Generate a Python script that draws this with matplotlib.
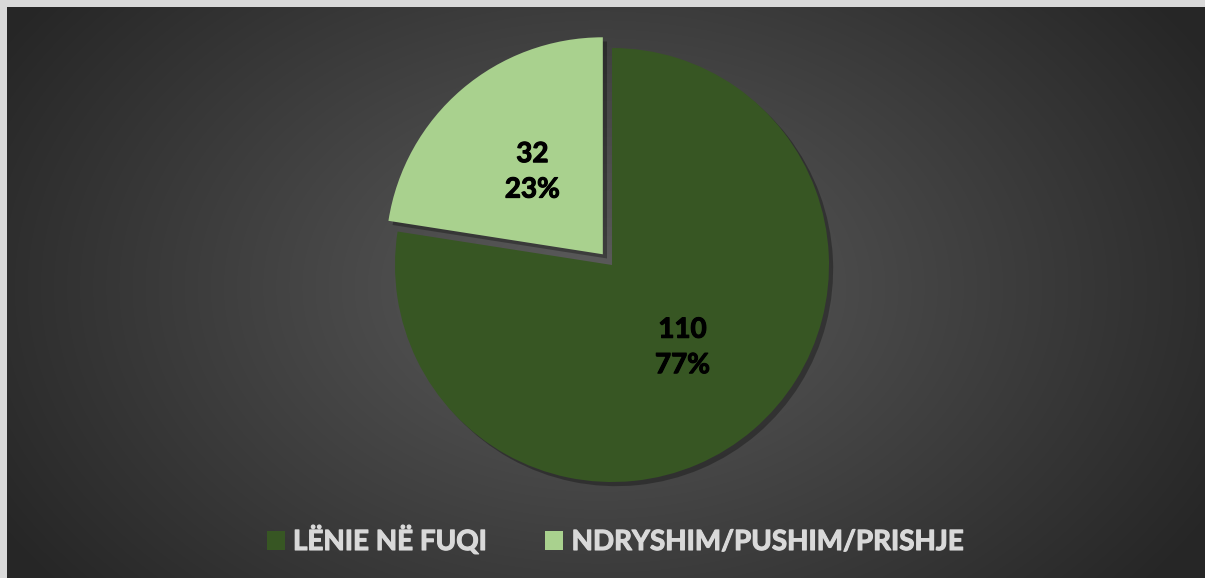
import numpy as np
import matplotlib
matplotlib.use("Agg")
import matplotlib.pyplot as plt
from matplotlib.patches import Rectangle
from matplotlib import patheffects as pe

# ---------------- data ----------------
categories = ["LËNIE NË FUQI", "NDRYSHIM/PUSHIM/PRISHJE"]
values = [110, 32]
colors = ["#375623", "#a9d18e"]

W, H = 1205, 578
R = 217
plt.rcParams["font.family"] = ["Lato", "DejaVu Sans"]

fig = plt.figure(figsize=(W / 100, H / 100), dpi=100)
ax = fig.add_axes([0, 0, 1, 1])

# ---------------- background: radial gradient ----------------
yy, xx = np.mgrid[0:H, 0:W]
d = np.sqrt(((xx - 600) / 700.0) ** 2 + ((yy - 290) / 480.0) ** 2)
d = np.clip(d, 0, 1)
shade = 0.36 - (0.36 - 0.15) * d
bg = np.dstack([shade, shade, shade])
ax.imshow(bg, extent=(0, W, 0, H), origin="lower", zorder=0, interpolation="bilinear")

# light frame on left and top
ax.add_patch(Rectangle((0, 0), 7, H, color="#d9d9d9", zorder=5, lw=0))
ax.add_patch(Rectangle((0, H - 7), W, 7, color="#d9d9d9", zorder=5, lw=0))

# ---------------- pie ----------------
total = sum(values)

def fmt(pct):
    v = int(round(pct * total / 100.0))
    return f"{v}\n{pct:.0f}%"

wedges, texts, autotexts = ax.pie(
    values,
    colors=colors,
    startangle=90,
    counterclock=False,
    explode=[0, 0.065 * R],
    center=(612, H - 265),
    radius=R,
    autopct=fmt,
    pctdistance=0.5,
    frame=True,
    wedgeprops=dict(linewidth=0),
    textprops=dict(fontsize=20, fontweight="bold", color="black", linespacing=1.45),
)
ax.set_xlim(0, W)
ax.set_ylim(0, H)
ax.set_aspect("equal")
ax.axis("off")
for w in wedges:
    w.set_zorder(2)
    w.set_path_effects([pe.SimplePatchShadow(offset=(3, -3), alpha=0.3, shadow_rgbFace="black"), pe.Normal()])
for t in autotexts:
    t.set_zorder(3)
    t.set_path_effects([pe.withStroke(linewidth=0.8, foreground="black")])

# ---------------- legend ----------------
leg = ax.legend(
    wedges, categories,
    loc="center", bbox_to_anchor=(0.5105, 1 - 540 / H),
    ncol=2, frameon=False,
    handlelength=0.65, handleheight=0.65, handletextpad=0.3,
    columnspacing=2.1,
    prop=dict(size=20, weight="bold"),
)
for t in leg.get_texts():
    t.set_color("#d9d9d9")
    t.set_path_effects([pe.withStroke(linewidth=0.8, foreground="#d9d9d9")])
for h in leg.legend_handles:
    h.set_path_effects([])

fig.savefig("out.png", dpi=100)
